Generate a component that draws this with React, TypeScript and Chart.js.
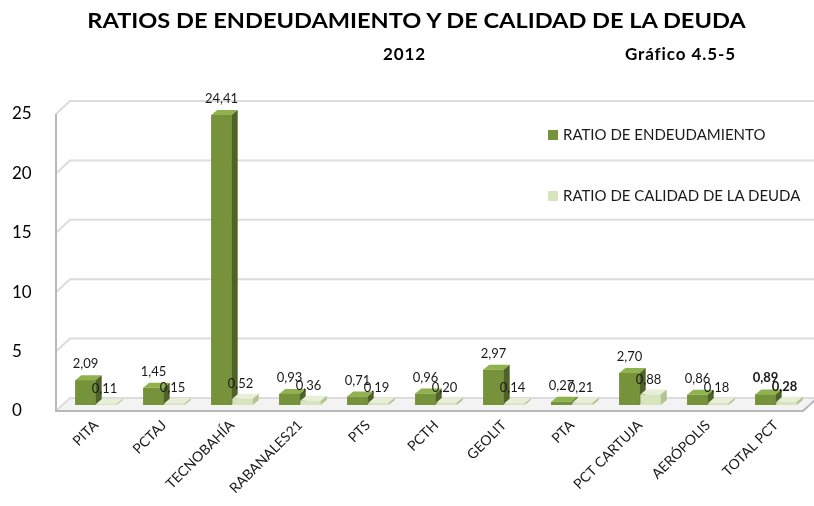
import React, { useEffect, useRef } from 'react';
import { Chart, registerables } from 'chart.js';

Chart.register(...registerables);

const categories = ['PITA', 'PCTAJ', 'TECNOBAHÍA', 'RABANALES21', 'PTS', 'PCTH', 'GEOLIT', 'PTA', 'PCT CARTUJA', 'AERÓPOLIS', 'TOTAL PCT'];
const endeudamiento = [2.09, 1.45, 24.41, 0.93, 0.71, 0.96, 2.97, 0.27, 2.7, 0.86, 0.89];
const calidad = [0.11, 0.15, 0.52, 0.36, 0.19, 0.2, 0.14, 0.21, 0.88, 0.18, 0.28];
const seriesNames = ['RATIO DE ENDEUDAMIENTO', 'RATIO DE CALIDAD DE LA DEUDA'];
const yTicks = [0, 5, 10, 15, 20, 25];
const titleText = 'RATIOS DE ENDEUDAMIENTO Y DE CALIDAD DE LA DEUDA';
const yearText = '2012';
const refText = 'Gráfico 4.5-5';

const FONT = 'Lato, "Open Sans", sans-serif';
const DARK = '#76933C';
const DARK_SIDE = '#4F6228';
const DARK_TOP = '#8FB24E';
const LIGHT = '#D7E4BD';
const LIGHT_SIDE = '#B3C490';
const LIGHT_TOP = '#E8EFD9';
const WALL_DX = 14;
const WALL_DY = 13;
const FRONT_DX = -6;
const FRONT_DY = 6;
const BAR_DX = 6;
const BAR_DY = 5;

const fmt = (v: number) => v.toFixed(2).replace('.', ',');

const wallsPlugin = {
  id: 'walls3d',
  beforeDatasetsDraw(chart: any) {
    const { ctx, chartArea, scales } = chart;
    const left = chartArea.left + FRONT_DX;
    const right = chartArea.right - 7;
    const y = scales.y;
    const bottom = y.getPixelForValue(0) + FRONT_DY;
    ctx.save();
    ctx.fillStyle = '#f3f3f3';
    ctx.beginPath();
    ctx.moveTo(left, bottom);
    ctx.lineTo(right, bottom);
    ctx.lineTo(right + WALL_DX, bottom - WALL_DY);
    ctx.lineTo(left + WALL_DX, bottom - WALL_DY);
    ctx.closePath();
    ctx.fill();
    ctx.strokeStyle = '#dcdcdc';
    ctx.lineWidth = 2;
    for (const v of yTicks) {
      const py = y.getPixelForValue(v) + FRONT_DY;
      ctx.beginPath();
      ctx.moveTo(left, py);
      ctx.lineTo(left + WALL_DX, py - WALL_DY);
      ctx.lineTo(right + WALL_DX, py - WALL_DY);
      ctx.stroke();
    }
    ctx.strokeStyle = '#b8b8b8';
    ctx.lineWidth = 2;
    ctx.beginPath();
    ctx.moveTo(left, y.getPixelForValue(yTicks[yTicks.length - 1]) + FRONT_DY);
    ctx.lineTo(left, bottom);
    ctx.lineTo(right, bottom);
    ctx.lineTo(right + WALL_DX, bottom - WALL_DY);
    ctx.stroke();
    ctx.restore();
  },
};

const drawBox = (ctx: any, el: any, front: string, topC: string, side: string) => {
  const { x, y, base, width } = el.getProps(['x', 'y', 'base', 'width'], true);
  const l = x - width / 2;
  const r = x + width / 2;
  ctx.fillStyle = front;
  ctx.fillRect(l, y, width, base - y);
  ctx.fillStyle = topC;
  ctx.beginPath();
  ctx.moveTo(l, y);
  ctx.lineTo(r, y);
  ctx.lineTo(r + BAR_DX, y - BAR_DY);
  ctx.lineTo(l + BAR_DX, y - BAR_DY);
  ctx.closePath();
  ctx.fill();
  ctx.fillStyle = side;
  ctx.beginPath();
  ctx.moveTo(r, y);
  ctx.lineTo(r + BAR_DX, y - BAR_DY);
  ctx.lineTo(r + BAR_DX, base - BAR_DY);
  ctx.lineTo(r, base);
  ctx.closePath();
  ctx.fill();
};

const bars3dPlugin = {
  id: 'bars3d',
  afterDatasetsDraw(chart: any) {
    const { ctx } = chart;
    const m0 = chart.getDatasetMeta(0);
    const m1 = chart.getDatasetMeta(1);
    ctx.save();
    m0.data.forEach((el: any, i: number) => {
      drawBox(ctx, el, DARK, DARK_TOP, DARK_SIDE);
      drawBox(ctx, m1.data[i], LIGHT, LIGHT_TOP, LIGHT_SIDE);
    });
    ctx.textAlign = 'center';
    ctx.textBaseline = 'alphabetic';
    ctx.fillStyle = '#1a1a1a';
    [0, 1].forEach((di) => {
      const meta = chart.getDatasetMeta(di);
      const data = chart.data.datasets[di].data as number[];
      meta.data.forEach((el: any, i: number) => {
        const { x, y } = el.getProps(['x', 'y'], true);
        const bold = i === data.length - 1;
        ctx.font = `${bold ? 'bold ' : ''}13px ${FONT}`;
        const dx = di === 0 ? 0 : -2;
        const dy = di === 0 ? 12 : 11;
        ctx.fillText(fmt(data[i]), x + dx, y - dy);
      });
    });
    ctx.restore();
  },
};

export default function App() {
  const canvasRef = useRef<HTMLCanvasElement | null>(null);

  useEffect(() => {
    if (!canvasRef.current) return;
    const chart = new Chart(canvasRef.current, {
      type: 'bar',
      data: {
        labels: categories,
        datasets: [
          {
            label: seriesNames[0],
            data: endeudamiento,
            backgroundColor: DARK,
            categoryPercentage: 0.62,
            barPercentage: 0.97,
          },
          {
            label: seriesNames[1],
            data: calidad,
            backgroundColor: LIGHT,
            categoryPercentage: 0.62,
            barPercentage: 0.97,
          },
        ],
      },
      options: {
        animation: false,
        responsive: false,
        maintainAspectRatio: false,
        layout: { padding: { top: 108, left: 12, right: 4, bottom: 0 } },
        plugins: {
          legend: { display: false },
          title: { display: false },
          tooltip: { enabled: false },
        },
        scales: {
          x: {
            grid: { display: false, drawTicks: false },
            border: { display: false },
            ticks: {
              minRotation: 45,
              maxRotation: 45,
              autoSkip: false,
              color: '#1a1a1a',
              font: { family: FONT, size: 14 },
              padding: 12,
            },
            afterFit(scale: any) {
              scale.height = 101;
            },
          },
          y: {
            min: 0,
            max: 25,
            grid: { display: false },
            border: { display: false },
            ticks: {
              stepSize: 5,
              crossAlign: 'far',
              labelOffset: 6,
              color: '#000',
              font: { family: FONT, size: 17 },
            },
            afterFit(scale: any) {
              scale.width = 50;
            },
          },
        },
      },
      plugins: [wallsPlugin, bars3dPlugin],
    });
    return () => chart.destroy();
  }, []);

  const swatch = (color: string, top: number) => ({
    position: 'absolute' as const,
    left: 548,
    top,
    width: 10,
    height: 10,
    background: color,
  });
  const legendText = (top: number) => ({
    position: 'absolute' as const,
    left: 563,
    top,
    fontFamily: FONT,
    fontSize: 15,
    lineHeight: '15px',
    color: '#1a1a1a',
    whiteSpace: 'nowrap' as const,
  });
  const sub = {
    position: 'absolute' as const,
    top: 45,
    fontFamily: FONT,
    fontWeight: 'bold' as const,
    fontSize: 17,
    lineHeight: '17px',
    letterSpacing: '0.9px',
    color: '#000',
    whiteSpace: 'nowrap' as const,
  };

  return (
    <div style={{ position: 'fixed', left: 0, top: 0, width: 814, height: 506, background: '#fff', overflow: 'hidden' }}>
      <canvas ref={canvasRef} width={814} height={506} style={{ position: 'absolute', left: 0, top: 0, width: 814, height: 506 }} />
      <div style={{ position: 'absolute', left: 0, top: 9, width: 833, textAlign: 'center', fontFamily: FONT, fontWeight: 'bold', fontSize: 21, lineHeight: '21px', color: '#000', whiteSpace: 'nowrap', transform: 'scaleX(1.123)', transformOrigin: '416.5px 0' }}>
        {titleText}
      </div>
      <div style={{ ...sub, left: 383 }}>{yearText}</div>
      <div style={{ ...sub, left: 625 }}>{refText}</div>
      <div style={swatch(DARK, 130)} />
      <div style={legendText(127)}>{seriesNames[0]}</div>
      <div style={swatch(LIGHT, 191)} />
      <div style={legendText(188)}>{seriesNames[1]}</div>
    </div>
  );
}
